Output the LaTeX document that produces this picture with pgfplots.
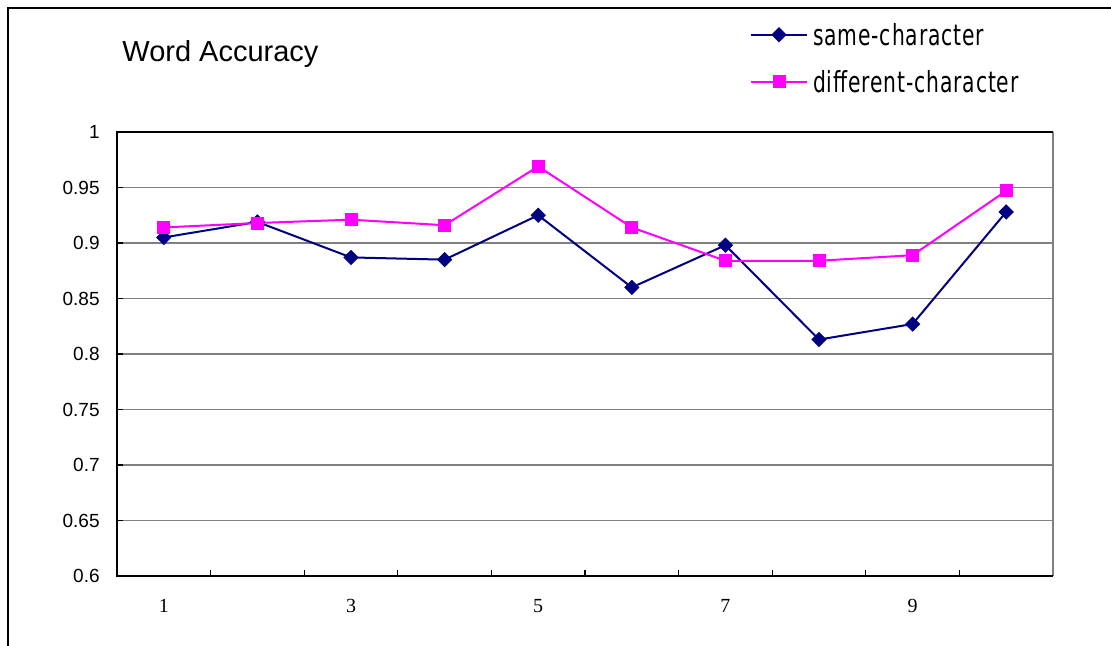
\documentclass[border=0pt]{standalone}
\usepackage{fontspec}
\setmainfont{Liberation Sans}
\newfontfamily\serifnum{Liberation Serif}
\newfontfamily\legfont[FakeStretch=0.70, LetterSpace=3]{DejaVu Sans}
\usepackage{pgfplots}
\pgfplotsset{compat=1.18}
\definecolor{navyline}{RGB}{0,0,128}
\definecolor{magline}{RGB}{255,0,255}
\definecolor{gridgray}{RGB}{128,128,128}

\begin{document}
\begin{tikzpicture}[x=1pt,y=1pt]
\useasboundingbox (0,0) rectangle (555.5,323);
% outer chart frame
\draw[line width=0.65pt] (4,0) -- (4,319) -- (555.5,319);
\node[anchor=base west, inner sep=0pt, font=\fontsize{14.5}{17}\selectfont] at (61,292) {Word Accuracy};
\begin{axis}[
  at={(58.5pt,35pt)}, anchor=south west,
  width=468pt, height=222pt, scale only axis,
  clip=false,
  xmin=0.5, xmax=10.5, ymin=0.6, ymax=1,
  axis line style={draw=none},
  tick align=inside,
  xtick pos=bottom, ytick pos=left,
  xtick={0.5,1.5,...,10.5}, xticklabels={},
  major tick length=3pt,
  tick style={black, line width=0.65pt},
  extra x ticks={1,3,5,7,9},
  extra x tick labels={1,3,5,7,9},
  extra x tick style={major tick length=0pt,
    xticklabel style={font=\serifnum\fontsize{10}{12}\selectfont, anchor=north, inner sep=0pt, yshift=-11.5pt}},
  ytick={0.6,0.65,0.7,0.75,0.8,0.85,0.9,0.95,1},
  yticklabels={0.6,0.65,0.7,0.75,0.8,0.85,0.9,0.95,1},
  yticklabel style={font=\fontsize{9.5}{11}\selectfont, anchor=east, inner sep=0pt, xshift=-8.5pt},
  /pgf/number format/assume math mode=true,
  ymajorgrids,
  major grid style={gridgray, line width=0.65pt},
  legend style={at={(0.6763,1.2439)}, anchor=north west, draw=none, fill=none,
    inner sep=0pt, outer sep=0pt, row sep=12.5pt, column sep=2.5pt,
    font=\legfont\fontsize{14.5}{17}\selectfont,
    nodes={inner sep=0pt, text height=11pt, text depth=0pt}},
  legend cell align=left,
  legend image code/.code={\draw[mark repeat=2,mark phase=2,#1] plot coordinates {(0pt,0pt)(14pt,0pt)(28pt,0pt)};},
]
\addplot[navyline, line width=1pt, mark=square*, mark size=2.5pt,
  mark options={rotate=45, solid, fill=navyline, line width=0.4pt}]
  coordinates {(1,0.905)(2,0.919)(3,0.887)(4,0.885)(5,0.925)
               (6,0.860)(7,0.898)(8,0.813)(9,0.827)(10,0.928)};
\addplot[magline, line width=1pt, mark=square*, mark size=3pt,
  mark options={solid, fill=magline, line width=0.4pt}]
  coordinates {(1,0.914)(2,0.918)(3,0.921)(4,0.916)(5,0.969)
               (6,0.914)(7,0.884)(8,0.884)(9,0.889)(10,0.947)};
\legend{same-character,different-character}
% plot area border
\draw[gridgray, line width=0.8pt] (rel axis cs:1,0) -- (rel axis cs:1,1);
\draw[line width=1pt] (rel axis cs:1,1) -- (rel axis cs:0,1) -- (rel axis cs:0,0) -- (rel axis cs:1,0);
\end{axis}
\end{tikzpicture}
\end{document}
